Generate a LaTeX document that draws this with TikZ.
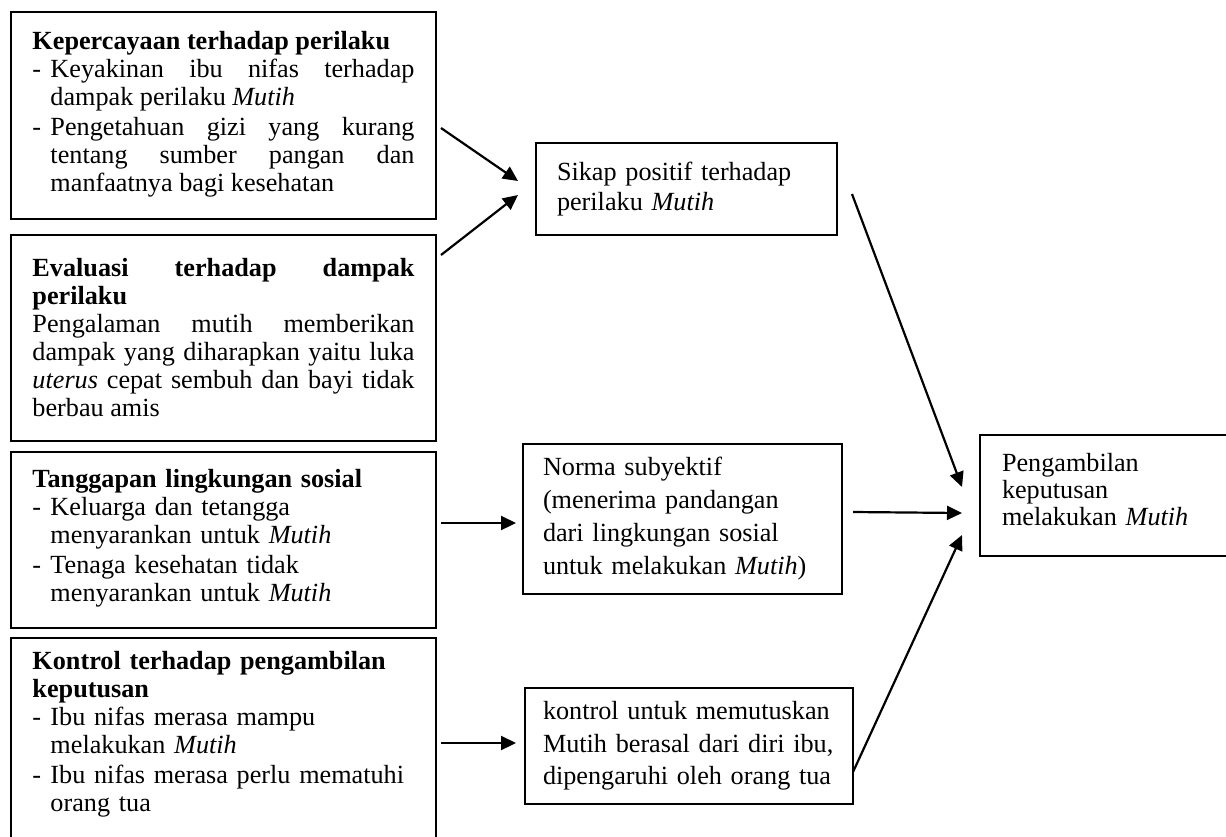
\documentclass[tikz,border=0pt]{standalone}
\usepackage{fontspec}
\setmainfont{Liberation Serif}
\usetikzlibrary{arrows.meta, positioning}
\setlength{\parindent}{0pt}
\setlength{\lineskip}{0pt}
\hyphenpenalty=10000
\exhyphenpenalty=10000
\newcommand{\butir}[1]{\par\noindent\makebox[9pt][l]{-}\parbox[t]{182pt}{\strut#1\strut}}

\begin{document}
\begin{tikzpicture}[x=0.5pt,y=-0.5pt]

	\tikzset{
		kotak/.style={
				draw, line width=0.65pt, inner ysep=0pt, outer sep=0pt, font=\fontsize{13.1pt}{14pt}\selectfont
			},
		kiri/.style={
				kotak, text width=191pt, inner xsep=10.75pt
			},
		kanan/.style={
				kotak, anchor=north west, align=left
			},
		panah/.style={
				line width=1.1pt, -{Triangle[length=7.5pt,width=7pt]}
			},
	}
	\useasboundingbox (0,0) rectangle (1226,836);
	\clip (0,0) rectangle (1226,836);

	\node[kiri, anchor=north west, align=justify, minimum height=103.5pt] (kep) at (11,12)
	{\textbf{Kepercayaan terhadap perilaku}
		\butir{Keyakinan ibu nifas terhadap \linebreak dampak perilaku \textit{Mutih}}
		\butir{Pengetahuan gizi yang kurang \linebreak tentang sumber pangan dan \linebreak manfaatnya bagi kesehatan}};
	\node[kiri, below=8pt of kep, align=justify, minimum height=103pt] (eval)
	{\textbf{Evaluasi terhadap dampak \linebreak perilaku}\par
		Pengalaman mutih memberikan \linebreak dampak yang diharapkan yaitu luka \linebreak
		\textit{uterus} cepat sembuh dan bayi tidak \linebreak berbau amis};
	\node[kiri, below=5.5pt of eval, align=left, minimum height=88pt] (tang)
	{\textbf{Tanggapan lingkungan sosial}
		\butir{Keluarga dan tetangga\\ menyarankan untuk \textit{Mutih}}
		\butir{Tenaga kesehatan tidak\\ menyarankan untuk \textit{Mutih}}};
	\node[kiri, below=5pt of tang, align=left, minimum height=111pt] (kon)
	{\textbf{Kontrol terhadap pengambilan\\ keputusan}
		\butir{Ibu nifas merasa mampu\\ melakukan \textit{Mutih}}
		\butir{Ibu nifas merasa perlu mematuhi\\ orang tua}\\[12pt]\mbox{}};

	\node[kanan, text width=129.5pt, inner xsep=10.5pt, minimum height=46pt,
		font=\fontsize{13.1pt}{15pt}\selectfont] (sikap) at (536,143)
	{Sikap positif terhadap\\ perilaku \textit{Mutih}};
	\node[kanan, text width=139.5pt, inner xsep=10pt, minimum height=75pt,
		font=\fontsize{13.1pt}{16.5pt}\selectfont] (norma) at (523,444)
	{Norma subyektif\\ (menerima pandangan\\ dari lingkungan sosial\\ untuk melakukan \textit{Mutih})};
	\node[kanan, text width=146pt, inner xsep=9pt, minimum height=58pt,
		font=\fontsize{13.1pt}{16.25pt}\selectfont] (kendali) at (525,688)
	{kontrol untuk memutuskan\\ Mutih berasal dari diri ibu,\\ dipengaruhi oleh orang tua};
	\node[kanan, text width=113pt, inner xsep=11pt, minimum height=60.5pt,
		font=\fontsize{13.1pt}{13.4pt}\selectfont] (ambil) at (980,435)
	{Pengambilan\\ keputusan\\ melakukan \textit{Mutih}\\[-7.4pt]\mbox{}};

	\draw[panah] ([xshift=2.5pt,yshift=-6.25pt]kep.east) -- ([xshift=-9pt,yshift=4pt]sikap.west);
	\draw[panah] ([xshift=2.5pt,yshift=-10pt]eval.north east) -- ([xshift=-9pt,yshift=-3pt]sikap.west);
	\draw[panah] ([xshift=2.5pt,yshift=8.5pt]tang.east) -- ([xshift=-3.5pt,yshift=-2pt]norma.west);
	\draw[panah] ([xshift=2.5pt,yshift=3pt]kon.east) -- ([xshift=-4.5pt,yshift=1.5pt]kendali.west);
	\draw[panah] ([xshift=7.5pt,yshift=-2.5pt]sikap.east) -- ([xshift=-9pt,yshift=4.25pt]ambil.west);
	\draw[panah] ([xshift=5.5pt,yshift=3.5pt]norma.east) -- ([xshift=-9pt,yshift=-8.75pt]ambil.west);
	\draw[panah] ([yshift=-13pt]kendali.east) -- ([xshift=-9pt,yshift=-19.75pt]ambil.west);

\end{tikzpicture}
\end{document}
